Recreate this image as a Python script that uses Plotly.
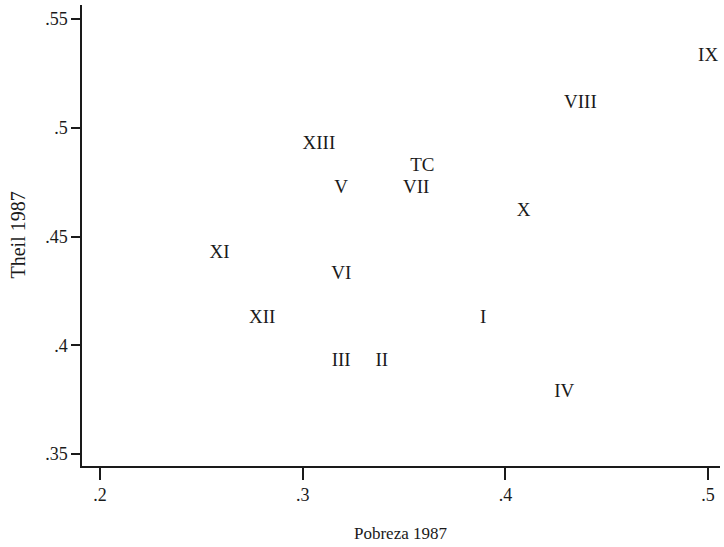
import plotly.graph_objects as go

labels = ["IX", "VIII", "XIII", "TC", "V", "VII", "X", "XI", "VI", "XII", "I", "III", "II", "IV"]
pobreza_1987 = [0.500, 0.437, 0.308, 0.359, 0.319, 0.356, 0.409, 0.259, 0.319, 0.280, 0.389, 0.319, 0.339, 0.429]
theil_1987 = [0.533, 0.5115, 0.4925, 0.4825, 0.472, 0.472, 0.4615, 0.4425, 0.4325, 0.4125, 0.4125, 0.3925, 0.3925, 0.3785]

x_ticks = [0.2, 0.3, 0.4, 0.5]
x_ticktext = [".2", ".3", ".4", ".5"]
y_ticks = [0.35, 0.4, 0.45, 0.5, 0.55]
y_ticktext = [".35", ".4", ".45", ".5", ".55"]

FONT = "Liberation Serif"

fig = go.Figure()
fig.add_trace(go.Scatter(
    x=pobreza_1987, y=theil_1987, mode="text", text=labels,
    textposition="middle center",
    textfont=dict(family=FONT, size=19, color="#1a1a1a"),
    hoverinfo="skip", showlegend=False,
))

fig.update_layout(
    width=724, height=547,
    margin=dict(l=82, r=4, t=5, b=81),
    paper_bgcolor="white", plot_bgcolor="white",
    font=dict(family=FONT, color="#1a1a1a"),
    xaxis=dict(
        range=[0.19112, 0.50587], tickvals=x_ticks, ticktext=x_ticktext,
        showgrid=False, zeroline=False, showline=True, linecolor="#1a1a1a", linewidth=1.5,
        ticks="outside", ticklen=12, tickwidth=1.5, tickcolor="#1a1a1a",
        tickfont=dict(family=FONT, size=18), automargin=False,
    ),
    yaxis=dict(
        range=[0.34449, 0.55644], tickvals=y_ticks, ticktext=y_ticktext,
        showgrid=False, zeroline=False, showline=True, linecolor="#1a1a1a", linewidth=1.5,
        ticks="outside", ticklen=9, tickwidth=1.5, tickcolor="#1a1a1a",
        tickfont=dict(family=FONT, size=18), automargin=False,
    ),
    annotations=[
        dict(text="Pobreza 1987", xref="paper", yref="paper", x=0.5, y=0,
             yshift=-67, xanchor="center", yanchor="middle", showarrow=False,
             font=dict(family=FONT, size=17)),
        dict(text="Theil 1987", xref="paper", yref="paper", x=0, y=0.5,
             xshift=-65, xanchor="center", yanchor="middle", showarrow=False,
             textangle=-90, font=dict(family=FONT, size=20)),
    ],
)

fig.write_html("out.html")
